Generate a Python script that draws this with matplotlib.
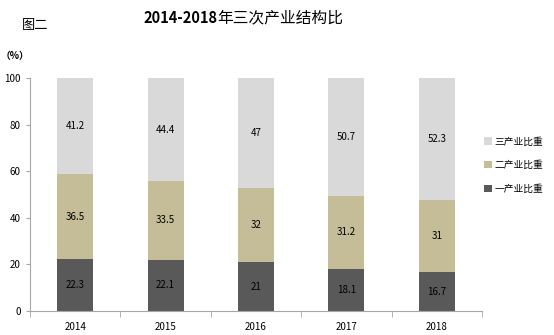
import matplotlib.pyplot as plt
import numpy as np

plt.rcParams['font.family'] = ['Noto Sans CJK SC', 'DejaVu Sans']

years = ["2014", "2015", "2016", "2017", "2018"]
primary = [22.3, 22.1, 21, 18.1, 16.7]
secondary = [36.5, 33.5, 32, 31.2, 31]
tertiary = [41.2, 44.4, 47, 50.7, 52.3]
series_names = ["一产业比重", "二产业比重", "三产业比重"]

C1 = "#595959"
C2 = "#C4BD97"
C3 = "#D9D9D9"
AXIS_COLOR = "#A6A6A6"

fig = plt.figure(figsize=(5.54, 3.35), dpi=100)
ax = fig.add_axes([30 / 554, 24 / 335, 452 / 554, 233 / 335])

x = np.arange(len(years))
w = 0.4
b1 = ax.bar(x, primary, w, color=C1, label=series_names[0])
b2 = ax.bar(x, secondary, w, bottom=primary, color=C2, label=series_names[1])
bottom3 = np.array(primary) + np.array(secondary)
b3 = ax.bar(x, tertiary, w, bottom=bottom3, color=C3, label=series_names[2])

def fmt(v):
    return f"{v:g}"

for bars, vals, bots in [(b1, primary, np.zeros(5)), (b2, secondary, np.array(primary)), (b3, tertiary, bottom3)]:
    for i, v in enumerate(vals):
        ax.text(x[i], bots[i] + v / 2, fmt(v), ha="center", va="center", fontsize=7, color="black")

ax.set_xlim(-0.5, len(years) - 0.5)
ax.set_ylim(0, 100)
ax.set_yticks(range(0, 101, 20))
ax.set_xticks(x)
ax.set_xticklabels(years)
ax.set_xticks(np.arange(-0.5, len(years)), minor=True)
ax.tick_params(axis="x", which="major", length=0, labelsize=7, pad=8)
ax.tick_params(axis="x", which="minor", length=4, color=AXIS_COLOR, direction="out")
ax.tick_params(axis="y", length=3, labelsize=7, color=AXIS_COLOR, direction="out")

for s in ["top", "right"]:
    ax.spines[s].set_visible(False)
for s in ["left", "bottom"]:
    ax.spines[s].set_color(AXIS_COLOR)
    ax.spines[s].set_linewidth(0.8)

handles = [b3, b2, b1]
fig.legend(handles, [series_names[2], series_names[1], series_names[0]],
           loc="center left", bbox_to_anchor=(475 / 554, 1 - 165 / 335),
           frameon=False, fontsize=7, handlelength=0.8, handleheight=0.8,
           handletextpad=0.3, labelspacing=1.4)

# 标题：数字加粗，中文常规
fig.text(217 / 554, 1 - 18 / 335, "2014-2018", ha="right", va="center",
         fontsize=10.5, fontweight="bold")
fig.text(217 / 554, 1 - 18 / 335, "年三次产业结构比", ha="left", va="center",
         fontsize=11.3)
fig.text(22 / 554, 1 - 25 / 335, "图二", ha="left", va="center", fontsize=9.5)
fig.text(1 / 554, 1 - 56 / 335, "（%）", ha="left", va="center", fontsize=7, fontweight="bold")

fig.savefig("out.png", dpi=100)
